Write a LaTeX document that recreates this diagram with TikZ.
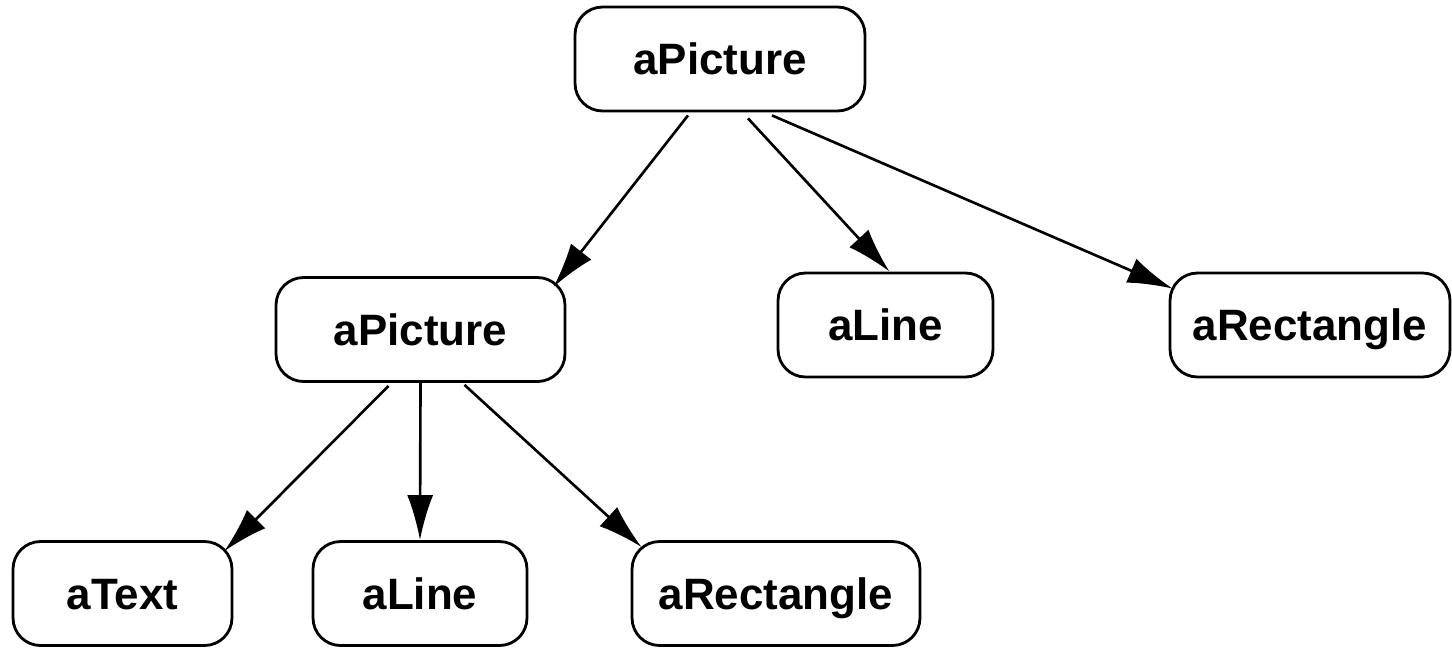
\documentclass[tikz,border=0pt]{standalone}
\usepackage{fontspec}
\setmainfont{Liberation Sans}
\usetikzlibrary{calc}
\usetikzlibrary{arrows.meta}
\tikzset{
   obj/.style={draw=black, line width=1.6pt, rounded corners=0.55cm,
      minimum height=2.08cm, inner sep=0pt,
      text height=0.63cm, text depth=0pt,
      font=\bfseries\fontsize{25}{30}\selectfont},
   link/.style={draw=black, line width=1.5pt,
      -{Latex[length=0.9cm,width=0.52cm]}},
   }

\begin{document}
\begin{tikzpicture}[x=0.02cm,y=-0.02cm]
       \useasboundingbox (0,0) rectangle (1452,647);
       \node[obj, minimum width=5.8cm] (pic) at (720,59) {aPicture};
       \node[obj, minimum width=5.78cm] (subpic) at (420.5,329.5) {aPicture};
       \node[obj, minimum width=4.3cm] (line) at (885.5,325) {aLine};
       \node[obj, minimum width=5.6cm] (rect) at (1310,325) {aRectangle};
       \node[obj, minimum width=4.38cm] (subtext) at (122.5,593.5) {aText};
       \node[obj, minimum width=4.28cm] (subline) at (420,593.5) {aLine};
       \node[obj, minimum width=5.76cm] (subrect) at (776,593.5) {aRectangle};
       \draw[link]($(pic.south)+(-32,3)$)to($(subpic.north east)+(-13,11)$);
       \draw[link]($(pic.south)+(28,6)$)to($(line.north)+(4,0)$);
       \draw[link]($(pic.south)+(52,3)$)to($(rect.north west)+(4,17)$);
       \draw[link]($(subpic.south)+(-32,3)$)to($(subtext.north east)+(-9,11)$);
       \draw[link](subpic.south)to(subline.north);
       \draw[link]($(subpic.south)+(44,2)$)to($(subrect.north west)+(11,7)$);
   \end{tikzpicture}
\end{document}
